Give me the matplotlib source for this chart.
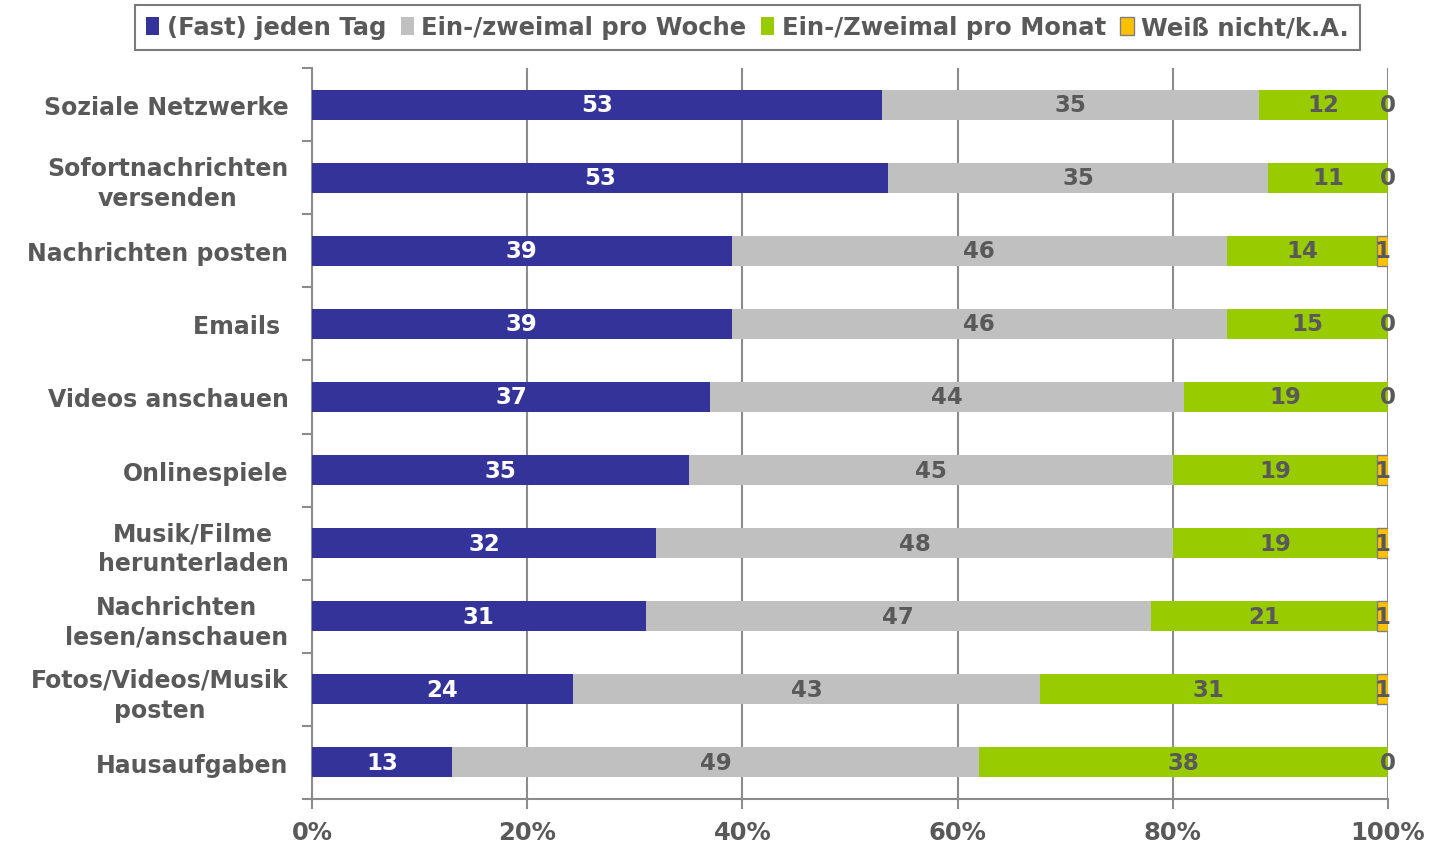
import matplotlib
matplotlib.use("Agg")
import matplotlib.pyplot as plt
import numpy as np
from matplotlib.patches import Patch

categories = ["Soziale Netzwerke", "Sofortnachrichten\nversenden", "Nachrichten posten",
              "Emails ", "Videos anschauen", "Onlinespiele", "Musik/Filme\nherunterladen",
              "Nachrichten\nlesen/anschauen", "Fotos/Videos/Musik\nposten", "Hausaufgaben"]
series_names = ["(Fast) jeden Tag", "Ein-/zweimal pro Woche", "Ein-/Zweimal pro Monat", "Weiß nicht/k.A."]
daily   = [53, 53, 39, 39, 37, 35, 32, 31, 24, 13]
weekly  = [35, 35, 46, 46, 44, 45, 48, 47, 43, 49]
monthly = [12, 11, 14, 15, 19, 19, 19, 21, 31, 38]
unknown = [0, 0, 1, 0, 0, 1, 1, 1, 1, 0]
xticklabels = ["0%", "20%", "40%", "60%", "80%", "100%"]

colors = ["#333399", "#C0C0C0", "#99CC00", "#FFC000"]
label_colors = ["white", "#595959", "#595959", "#595959"]
textgray = "#595959"
gridgray = "#8C8C8C"

plt.rcParams['font.family'] = ['DejaVu Sans']
plt.rcParams['font.weight'] = 'bold'

fig = plt.figure(figsize=(14.29, 8.45), dpi=100)
ax = fig.add_axes([312/1429, 45/845, (1388-312)/1429, (800-69)/845])

data = np.array([daily, weekly, monthly, unknown], dtype=float)
totals = data.sum(axis=0)
pct = data / totals * 100
y = np.arange(len(categories))
left = np.zeros(len(categories))
for i in range(4):
    edge = "#7F7F7F" if i == 3 else "none"
    ax.barh(y, pct[i], left=left, height=0.41, color=colors[i], edgecolor=edge,
            linewidth=1 if i == 3 else 0, zorder=3)
    for j in range(len(categories)):
        cx = left[j] + pct[i][j] / 2
        ax.text(cx, y[j], f"{int(data[i][j])}", ha="center", va="center",
                color=label_colors[i], fontsize=16.5, fontweight="bold", zorder=5)
    left += pct[i]

ax.set_xlim(0, 100)
ax.set_ylim(len(categories) - 0.5, -0.5)
ax.set_xticks(np.arange(0, 101, 20))
ax.set_xticklabels(xticklabels, color=textgray, fontsize=17.5, fontweight="bold")
ax.xaxis.grid(True, color=gridgray, linewidth=1.5, zorder=0)
ax.tick_params(axis="x", length=7, width=1.5, color=gridgray, pad=8)

ax.set_yticks(np.arange(-0.5, len(categories), 1.0))
ax.set_yticklabels([])
ax.set_yticks(y, minor=True)
ax.set_yticklabels(categories, minor=True, color=textgray, fontsize=17,
                   fontweight="bold", linespacing=1.3)
for t in ax.get_yticklabels(minor=True):
    t.set_multialignment("center")
ax.tick_params(axis="y", which="major", length=7, width=1.5, color=gridgray)
ax.tick_params(axis="y", which="minor", length=0, pad=17)

for s in ["top", "right"]:
    ax.spines[s].set_visible(False)
for s in ["left", "bottom"]:
    ax.spines[s].set_color(gridgray)
    ax.spines[s].set_linewidth(1.5)

handles = [Patch(facecolor=colors[i], edgecolor="#7F7F7F" if i == 3 else colors[i],
                 linewidth=1 if i == 3 else 0) for i in range(4)]
leg = fig.legend(handles, series_names, loc="center", bbox_to_anchor=(747.5/1429, 1 - 28.5/845),
                 ncol=4, handlelength=0.55, handleheight=0.75, handletextpad=0.3, columnspacing=0.6,
                 fancybox=False, frameon=True, borderpad=0.45,
                 prop={"size": 17.5, "weight": "bold"})
leg.get_frame().set_edgecolor("#595959")
leg.get_frame().set_linewidth(1.5)
for t in leg.get_texts():
    t.set_color(textgray)

fig.savefig("out.png", dpi=100)
